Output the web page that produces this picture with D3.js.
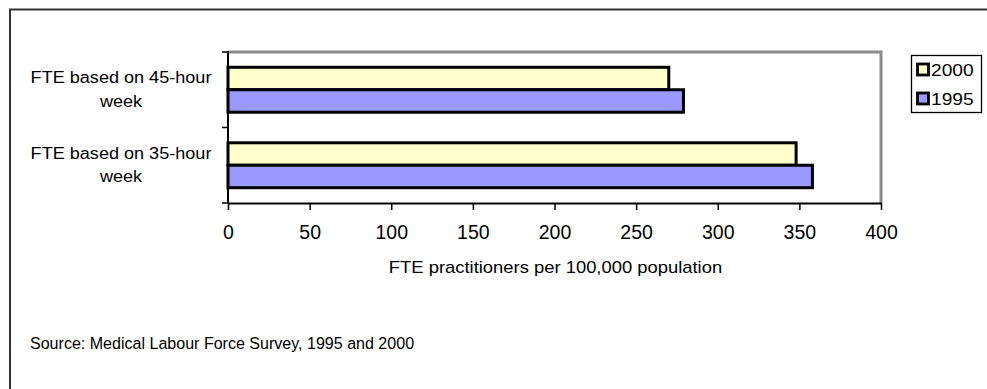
<!DOCTYPE html>
<html>
<head>
<meta charset="utf-8">
<script src="https://cdn.jsdelivr.net/npm/d3@7"></script>
<style>
  html, body { margin: 0; padding: 0; background: #fff; }
  svg { display: block; }
  text { font-family: "Liberation Sans", Arial, sans-serif; fill: #000; }
</style>
</head>
<body>
<svg id="chart" width="987" height="389"></svg>
<script>
// ---- data ----
const categories = ["FTE based on 45-hour week", "FTE based on 35-hour week"];
const categoryLines = [["FTE based on 45-hour", "week"], ["FTE based on 35-hour", "week"]];
const seriesNames = ["2000", "1995"];
const values2000 = [270, 348];
const values1995 = [279, 358];
const xTicks = [0, 50, 100, 150, 200, 250, 300, 350, 400];
const xTitle = "FTE practitioners per 100,000 population";
const sourceText = "Source: Medical Labour Force Survey, 1995 and 2000";

// ---- layout ----
const svg = d3.select("#chart");
const pLeft = 228, pRight = 881, pTop = 52, pBottom = 203;
const colors = { "2000": "#FFFFCC", "1995": "#9999FF" };

// outer frame
svg.append("rect").attr("x", 10).attr("y", 9.5).attr("width", 1000).attr("height", 420)
  .attr("fill", "none").attr("stroke", "#333").attr("stroke-width", 2);

const x = d3.scaleLinear().domain([0, 400]).range([pLeft, pRight]);
const y = d3.scaleBand().domain(categories).range([pTop, pBottom]).paddingInner(0).paddingOuter(0);
const ySub = d3.scaleBand().domain(seriesNames).range([0, y.bandwidth()]).paddingInner(0).paddingOuter(0.68);

// gray plot border top & right
svg.append("path")
  .attr("d", `M${pLeft},${pTop} H${pRight} V${pBottom}`)
  .attr("fill", "none").attr("stroke", "#8a8a8a").attr("stroke-width", 3);

// bars
const rows = categories.map((c, i) => ({ cat: c, vals: [
  { s: "2000", v: values2000[i] }, { s: "1995", v: values1995[i] } ] }));
const g = svg.append("g");
rows.forEach(r => {
  g.selectAll(null).data(r.vals).enter().append("rect")
    .attr("x", x(0))
    .attr("y", d => y(r.cat) + ySub(d.s))
    .attr("width", d => x(d.v) - x(0))
    .attr("height", ySub.bandwidth())
    .attr("fill", d => colors[d.s])
    .attr("stroke", "#000").attr("stroke-width", 3);
});

// x axis
const xAxis = d3.axisBottom(x).tickValues(xTicks).tickSize(7).tickPadding(15).tickSizeOuter(0);
const xg = svg.append("g").attr("transform", `translate(0,${pBottom})`).call(xAxis);
xg.select(".domain").attr("stroke", "#000").attr("stroke-width", 2);
xg.selectAll(".tick line").attr("stroke", "#000").attr("stroke-width", 1.5);
xg.selectAll(".tick text").attr("font-size", 19.5).attr("fill", "#000")
  .attr("font-family", "Liberation Sans, Arial, sans-serif");

// y axis (ticks at category boundaries)
const boundaries = [pTop].concat(categories.map(c => y(c) + y.bandwidth()));
svg.append("line").attr("x1", pLeft).attr("x2", pLeft).attr("y1", pTop - 1).attr("y2", pBottom + 1)
  .attr("stroke", "#000").attr("stroke-width", 2);
svg.selectAll(null).data(boundaries).enter().append("line")
  .attr("x1", pLeft - 6).attr("x2", pLeft).attr("y1", d => d).attr("y2", d => d)
  .attr("stroke", "#000").attr("stroke-width", 1.5);

// stretched text helper
function stext(sel, tx, ty, str, size, sx, anchor) {
  return sel.append("text")
    .attr("transform", `translate(${tx},${ty}) scale(${sx},1)`)
    .attr("font-size", size).attr("text-anchor", anchor || "start")
    .text(str);
}

// category labels
categories.forEach((c, i) => {
  const cy = y(c) + y.bandwidth() / 2;
  const lines = categoryLines[i];
  stext(svg, 121, cy - 12 + 5.5, lines[0], 16, 1.13, "middle");
  stext(svg, 121, cy + 11.5 + 5.5, lines[1], 16, 1.13, "middle");
});

// x title
stext(svg, (pLeft + pRight) / 2 + 1, 273, xTitle, 16, 1.15, "middle");

// source
stext(svg, 30, 349, sourceText, 17, 0.945, "start");

// legend
const lg = svg.append("g");
lg.append("rect").attr("x", 911.5).attr("y", 55.5).attr("width", 70).attr("height", 57)
  .attr("fill", "#fff").attr("stroke", "#000").attr("stroke-width", 1.3);
seriesNames.forEach((s, i) => {
  const cy = 69.5 + i * 29;
  lg.append("rect").attr("x", 917.5).attr("y", cy - 5.5).attr("width", 11).attr("height", 11)
    .attr("fill", colors[s]).attr("stroke", "#000").attr("stroke-width", 2.8);
  stext(lg, 931, cy + 6, s, 16, 1.2, "start");
});
</script>
</body>
</html>
